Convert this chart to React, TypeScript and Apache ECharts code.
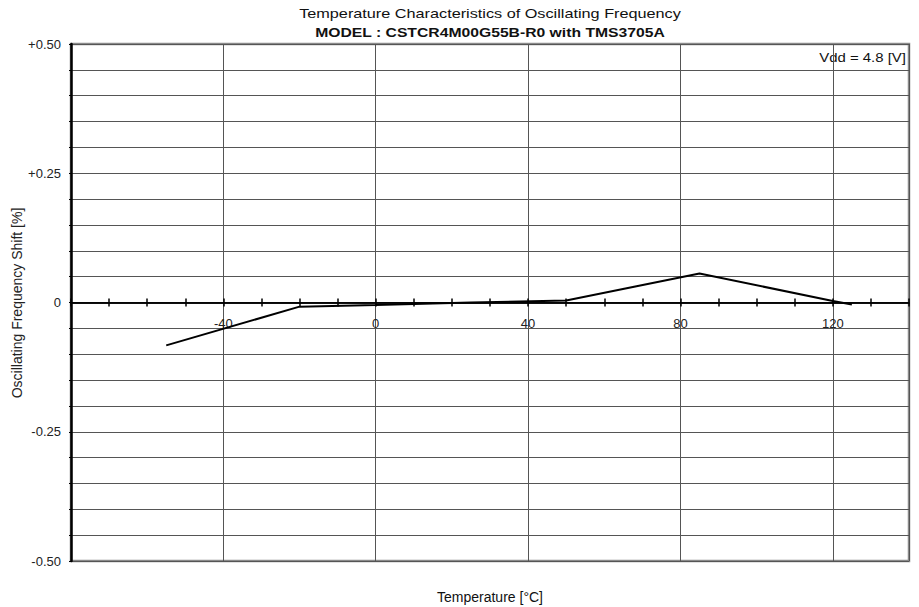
import React, { useEffect, useRef } from "react";
import * as echarts from "echarts";

const titleText = "Temperature Characteristics of Oscillating Frequency";
const subtitleText = "MODEL : CSTCR4M00G55B-R0 with TMS3705A";
const conditionText = "Vdd = 4.8 [V]";
const xAxisName = "Temperature [°C]";
const yAxisName = "Oscillating Frequency Shift [%]";

const temperatures = [-55, -20, 0, 25, 50, 85, 120, 125];
const freqShift = [-0.083, -0.008, -0.005, 0.0, 0.004, 0.056, 0.003, -0.004];

const xLabelValues = [-40, 0, 40, 80, 120];
const yLabelValues = [-50, -25, 0, 25, 50];

const FONT = "'Liberation Sans', Arial, sans-serif";

export default function App() {
  const ref = useRef<HTMLDivElement>(null);
  useEffect(() => {
    if (!ref.current) return;
    const chart = echarts.init(ref.current, undefined, { renderer: "svg" });
    const data = temperatures.map((t, i) => [t, freqShift[i]]);
    const gridTop = 44;
    const gridBottom = 46;
    const plotH = 607 - gridTop - gridBottom;
    chart.setOption({
      animation: false,
      backgroundColor: "#ffffff",
      textStyle: { fontFamily: FONT },
      grid: {
        left: 71,
        right: 10,
        top: gridTop,
        bottom: gridBottom,
        show: true,
        borderColor: "#8a8a8a",
        borderWidth: 2.5,
        backgroundColor: "transparent",
      },
      graphic: [
        {
          type: "text",
          x: 490,
          y: 14,
          scaleX: 1.25,
          style: { text: titleText, textAlign: "center", textVerticalAlign: "middle", font: `13px ${FONT}`, fill: "#111" },
        },
        {
          type: "text",
          x: 490,
          y: 32,
          scaleX: 1.21,
          style: { text: subtitleText, textAlign: "center", textVerticalAlign: "middle", font: `bold 13px ${FONT}`, fill: "#111" },
        },
        {
          type: "text",
          x: 906,
          y: 57,
          scaleX: 1.15,
          style: { text: conditionText, textAlign: "right", textVerticalAlign: "middle", font: `13px ${FONT}`, fill: "#111" },
        },
        {
          type: "text",
          x: 490,
          y: 597,
          style: { text: xAxisName, textAlign: "center", textVerticalAlign: "middle", font: `14px ${FONT}`, fill: "#111" },
        },
        {
          type: "text",
          x: 17,
          y: 303,
          rotation: Math.PI / 2,
          style: { text: yAxisName, textAlign: "center", textVerticalAlign: "middle", font: `14px ${FONT}`, fill: "#222" },
        },
      ],
      xAxis: [
        {
          type: "value",
          min: -80,
          max: 140,
          interval: 10,
          position: "bottom",
          axisLine: { onZero: true, onZeroAxisIndex: 0, lineStyle: { color: "#000", width: 1.5 } },
          axisTick: { show: true, inside: false, length: 4, lineStyle: { color: "#000", width: 1.5 } },
          axisLabel: { show: false },
          splitLine: { show: false },
        },
        {
          type: "value",
          min: -80,
          max: 140,
          interval: 10,
          position: "top",
          axisLine: { onZero: true, onZeroAxisIndex: 0, lineStyle: { color: "#000", width: 1.5 } },
          axisTick: { show: true, inside: false, length: 4, lineStyle: { color: "#000", width: 1.5 } },
          axisLabel: { show: false },
          splitLine: { show: false },
        },
        {
          type: "value",
          min: -80,
          max: 140,
          interval: 40,
          position: "bottom",
          offset: -(plotH / 2),
          axisLine: { show: false, onZero: false },
          axisTick: { show: false },
          axisLabel: {
            show: true,
            margin: 14,
            fontSize: 13,
            color: "#222",
            fontFamily: FONT,
            formatter: (v: number) => (xLabelValues.includes(Math.round(v)) ? String(Math.round(v)) : ""),
          },
          splitLine: { show: true, lineStyle: { color: "#555", width: 1 } },
        },
      ],
      yAxis: {
        type: "value",
        min: -0.5,
        max: 0.5,
        interval: 0.05,
        axisLine: { show: true, onZero: false, lineStyle: { color: "#000", width: 2.5 } },
        axisTick: { show: true, inside: false, length: 2, lineStyle: { color: "#000" } },
        axisLabel: {
          margin: 10,
          fontSize: 13,
          color: "#222",
          fontFamily: FONT,
          formatter: (v: number) => {
            const r = Math.round(v * 100);
            if (!yLabelValues.includes(r)) return "";
            if (r === 0) return "0";
            const s = (Math.abs(r) / 100).toFixed(2);
            return r > 0 ? "+" + s : "-" + s;
          },
        },
        splitLine: { show: true, lineStyle: { color: "#555", width: 1 } },
      },
      series: [
        {
          type: "line",
          xAxisIndex: 0,
          data,
          showSymbol: false,
          symbol: "none",
          lineStyle: { color: "#000", width: 2 },
          z: 5,
        },
      ],
    });
    return () => chart.dispose();
  }, []);
  return <div ref={ref} style={{ width: 919, height: 607, position: "absolute", left: 0, top: 0 }} />;
}
